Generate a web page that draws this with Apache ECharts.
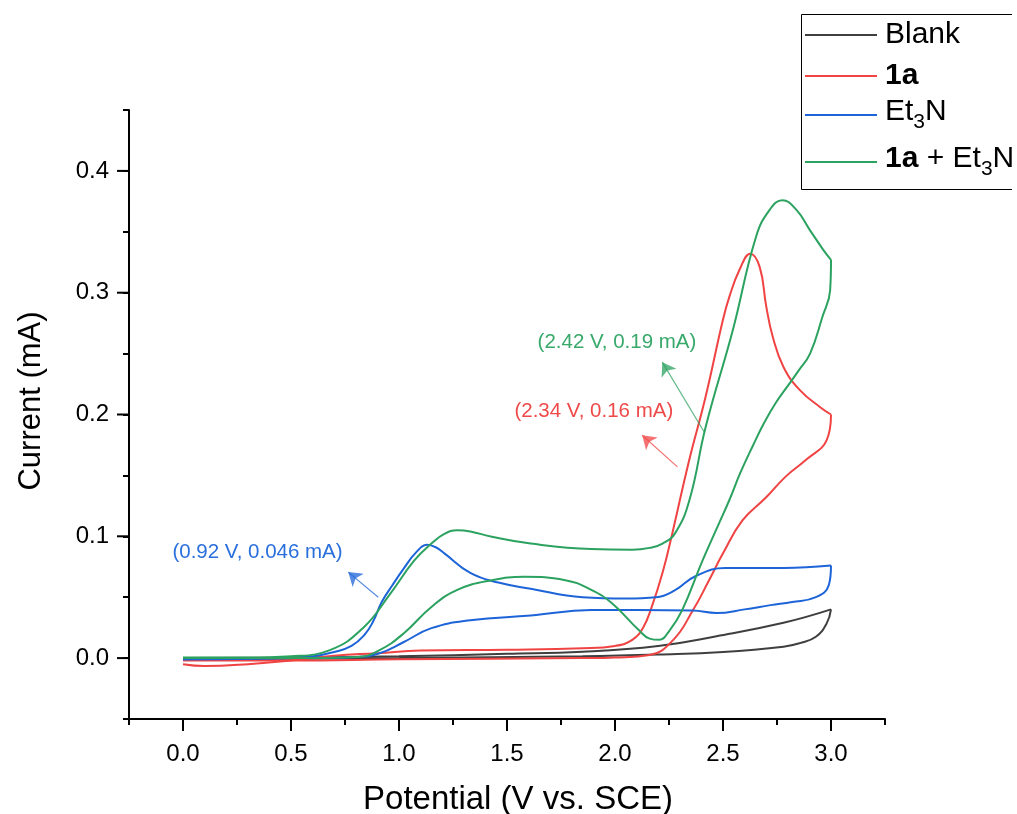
<!DOCTYPE html>
<html>
<head>
<meta charset="utf-8">
<script src="https://cdn.jsdelivr.net/npm/echarts@6/dist/echarts.min.js"></script>
<style>
  html, body { margin: 0; padding: 0; background: #fff; overflow: hidden; }
  #chart { width: 1017px; height: 814px; }
</style>
</head>
<body>
<div id="chart"></div>
<script>
// Cyclic voltammograms: forward (0 -> 3 V) and reverse (3 -> 0 V) sweeps.
const blankFwdV = [0, 0.5, 1.0, 1.5, 1.85, 2.2, 2.47, 2.78, 3.0];
const blankFwdI = [0.000, 0.0005, 0.0015, 0.0035, 0.0052, 0.010, 0.018, 0.029, 0.040];
const blankRevV = [3.0, 2.98, 2.93, 2.856, 2.78, 2.5, 2.2, 1.85, 1.0, 0.5, 0];
const blankRevI = [0.040, 0.0285, 0.0175, 0.0123, 0.0093, 0.005, 0.003, 0.0016, 0.0, -0.0005, -0.001];

const redFwdV = [0, 0.1, 0.3, 0.5, 0.7, 0.9, 1.1, 1.5, 1.85, 2.0, 2.08, 2.13, 2.17, 2.22, 2.266, 2.34, 2.42, 2.5, 2.53, 2.577, 2.626, 2.67, 2.70, 2.73, 2.78, 2.856, 2.95, 3.0];
const redFwdI = [-0.005, -0.0065, -0.005, -0.002, 0.002, 0.004, 0.0062, 0.0068, 0.008, 0.010, 0.015, 0.025, 0.042, 0.070, 0.103, 0.16, 0.215, 0.278, 0.297, 0.319, 0.332, 0.321, 0.289, 0.264, 0.239, 0.22, 0.206, 0.200];
const redRevV = [3.0, 2.98, 2.886, 2.79, 2.70, 2.59, 2.50, 2.43, 2.36, 2.27, 2.16, 2.0, 1.85, 1.0, 0.5, 0];
const redRevI = [0.200, 0.179, 0.163, 0.149, 0.132, 0.113, 0.086, 0.062, 0.039, 0.015, 0.0025, 0.0005, 0.0, -0.001, -0.002, -0.002];

const blueFwdV = [0, 0.3, 0.5, 0.6, 0.7, 0.78, 0.84, 0.88, 0.92, 0.97, 1.02, 1.08, 1.13, 1.17, 1.21, 1.33, 1.46, 1.61, 1.85, 2.05, 2.19, 2.28, 2.37, 2.51, 2.78, 3.0];
const blueFwdI = [-0.001, -0.0005, 0.0005, 0.0015, 0.005, 0.010, 0.019, 0.030, 0.046, 0.060, 0.073, 0.087, 0.093, 0.091, 0.086, 0.070, 0.062, 0.057, 0.050, 0.049, 0.050, 0.056, 0.067, 0.074, 0.074, 0.076];
const blueRevV = [3.0, 2.99, 2.93, 2.82, 2.72, 2.6, 2.47, 2.36, 2.1, 1.89, 1.61, 1.33, 1.15, 1.02, 0.91, 0.81, 0.5, 0];
const blueRevI = [0.076, 0.060, 0.050, 0.046, 0.0435, 0.040, 0.037, 0.039, 0.0395, 0.0394, 0.035, 0.031, 0.0246, 0.013, 0.004, 0.001, 0.0, -0.001];

const greenFwdV = [0, 0.3, 0.5, 0.68, 0.835, 0.96, 1.07, 1.15, 1.21, 1.27, 1.33, 1.43, 1.61, 1.89, 2.08, 2.16, 2.22, 2.28, 2.345, 2.42, 2.545, 2.653, 2.716, 2.775, 2.84, 2.90, 2.965, 3.0];
const greenFwdI = [0.0005, 0.0005, 0.0015, 0.0066, 0.025, 0.053, 0.080, 0.094, 0.102, 0.105, 0.104, 0.0996, 0.094, 0.0895, 0.089, 0.0905, 0.094, 0.103, 0.13, 0.19, 0.269, 0.346, 0.368, 0.376, 0.368, 0.352, 0.335, 0.327];
const greenRevV = [3.0, 2.996, 2.96, 2.903, 2.85, 2.81, 2.746, 2.69, 2.64, 2.58, 2.53, 2.48, 2.405, 2.31, 2.25, 2.205, 2.16, 2.11, 1.986, 1.89, 1.77, 1.58, 1.43, 1.27, 1.15, 1.02, 0.91, 0.81, 0.5, 0];
const greenRevI = [0.327, 0.302, 0.28, 0.25, 0.236, 0.226, 0.21, 0.193, 0.175, 0.152, 0.13, 0.11, 0.08, 0.039, 0.022, 0.015, 0.016, 0.023, 0.045, 0.056, 0.064, 0.0667, 0.064, 0.056, 0.042, 0.02, 0.0066, 0.001, 0.0, 0.0];

// Onset points quoted in the annotations
const onsetV = [0.92, 2.34, 2.42];
const onsetI = [0.046, 0.16, 0.19];

const seriesNames = ['Blank', '1a', 'Et3N', '1a + Et3N'];
const xTickValues = [0, 0.5, 1.0, 1.5, 2.0, 2.5, 3.0];
const yTickValues = [0, 0.1, 0.2, 0.3, 0.4];

const FONT = 'Liberation Sans, Arial, Helvetica, sans-serif';
const COLORS = { gray: '#3f3f3f', red: '#f04343', blue: '#1d64d8', green: '#2ba25f' };
const X_MIN = -0.25, X_MAX = 3.25, Y_MIN = -0.05, Y_MAX = 0.45;
const MAJOR_TICK = 12;

const zip = (v, i) => v.map((x, k) => [x, i[k]]);
const onsetText = k => `(${onsetV[k].toFixed(2)} V, ${onsetI[k]} mA)`;

function sweep(name, color, v, i, extra) {
  return Object.assign({
    name: name,
    type: 'line',
    data: zip(v, i),
    smooth: 0.45,
    symbol: 'none',
    showSymbol: false,
    lineStyle: { color: color, width: 2 },
    itemStyle: { color: color },
    z: 3
  }, extra || {});
}

function arrow(color, from, to) {
  return {
    silent: true,
    symbol: ['none', 'arrow'],
    symbolSize: 13,
    lineStyle: { color: color, width: 1.2, type: 'solid', opacity: 0.75 },
    itemStyle: { color: color },
    label: { show: false },
    emphasis: { disabled: true },
    data: [[{ coord: from }, { coord: to }]]
  };
}

function note(color, at, text) {
  return {
    silent: true,
    symbol: 'circle',
    symbolSize: 0,
    label: { show: true, position: 'inside', formatter: text, color: color, fontSize: 20.5, fontFamily: FONT },
    data: [{ coord: at }]
  };
}

const richText = {
  n: { fontSize: 30, fontFamily: FONT, color: '#000', verticalAlign: 'top' },
  b: { fontSize: 30, fontFamily: FONT, color: '#000', fontWeight: 'bold', verticalAlign: 'top' },
  s: { fontSize: 21, fontFamily: FONT, color: '#000', verticalAlign: 'top', padding: [15, 0, 0, 0] }
};
const legendLabel = {
  'Blank': '{n|Blank}',
  '1a': '{b|1a}',
  'Et3N': '{n|Et}{s|3}{n|N}',
  '1a + Et3N': '{b|1a}{n| + Et}{s|3}{n|N}'
};
const legendTops = [20, 61, 97, 144];

const black = { color: '#000', width: 2 };

const option = {
  animation: false,
  backgroundColor: '#fff',
  grid: { left: 129, right: 132, top: 110, bottom: 95, containLabel: false, outerBoundsMode: 'none' },
  xAxis: {
    type: 'value', min: X_MIN, max: X_MAX, interval: 0.25,
    splitLine: { show: false },
    axisLine: { show: true, onZero: false, lineStyle: black },
    axisTick: { show: true, length: 6, lineStyle: black },
    axisLabel: { customValues: xTickValues, formatter: v => v.toFixed(1), fontSize: 24, color: '#000', margin: 23, fontFamily: FONT },
    name: 'Potential (V vs. SCE)', nameLocation: 'middle', nameGap: 64,
    nameTextStyle: { fontSize: 33, color: '#000', fontFamily: FONT, padding: [0, 0, 0, 22] }
  },
  yAxis: {
    type: 'value', min: Y_MIN, max: Y_MAX, interval: 0.05,
    splitLine: { show: false },
    axisLine: { show: true, onZero: false, lineStyle: black },
    axisTick: { show: true, length: 6, lineStyle: black },
    axisLabel: { customValues: yTickValues, formatter: v => v.toFixed(1), fontSize: 24, color: '#000', margin: 20, fontFamily: FONT },
    name: 'Current (mA)', nameLocation: 'middle', nameGap: 82,
    nameTextStyle: { fontSize: 31, color: '#000', fontFamily: FONT, padding: [0, 0, 0, 27] }
  },
  legend: seriesNames.map((n, k) => ({
    data: [n],
    left: 805,
    top: legendTops[k],
    orient: 'vertical',
    padding: 0,
    icon: 'rect',
    itemWidth: 72,
    itemHeight: 2,
    selectedMode: false,
    formatter: name => legendLabel[name],
    textStyle: { fontSize: 30, color: '#000', fontFamily: FONT, padding: [0, 0, 0, 3], rich: richText }
  })),
  series: [
    sweep('Blank', COLORS.gray, blankFwdV, blankFwdI),
    sweep('Blank', COLORS.gray, blankRevV, blankRevI),
    sweep('1a', COLORS.red, redFwdV, redFwdI, {
      markLine: arrow(COLORS.red, [2.289, 0.157], [2.126, 0.183]),
      markPoint: note('#ef4a4a', [1.902, 0.203], onsetText(1))
    }),
    sweep('1a', COLORS.red, redRevV, redRevI),
    sweep('Et3N', COLORS.blue, blueFwdV, blueFwdI, {
      markLine: arrow(COLORS.blue, [0.904, 0.050], [0.765, 0.0706]),
      markPoint: note('#2a6fdc', [0.345, 0.087], onsetText(0))
    }),
    sweep('Et3N', COLORS.blue, blueRevV, blueRevI),
    sweep('1a + Et3N', COLORS.green, greenFwdV, greenFwdI, {
      markLine: arrow(COLORS.green, [2.415, 0.185], [2.219, 0.243]),
      markPoint: note('#38a96a', [2.009, 0.2595], onsetText(2))
    }),
    sweep('1a + Et3N', COLORS.green, greenRevV, greenRevI)
  ]
};

const chart = echarts.init(document.getElementById('chart'), null, { renderer: 'canvas' });
chart.setOption(option);

// Legend frame (top, left and bottom edges) plus the long major ticks,
// the ticks positioned through the grid's own value-to-pixel conversion.
const line = (x1, y1, x2, y2, w) => ({
  type: 'line', silent: true, z: 10,
  shape: { x1: x1, y1: y1, x2: x2, y2: y2 },
  style: { stroke: '#000', lineWidth: w }
});
const marks = [
  line(801.5, 14.5, 1012, 14.5, 1),
  line(801.5, 14.5, 801.5, 189.5, 1),
  line(801.5, 189.5, 1012, 189.5, 1)
];
xTickValues.forEach(v => {
  const p = chart.convertToPixel({ gridIndex: 0 }, [v, Y_MIN]);
  if (p) marks.push(line(p[0], p[1], p[0], p[1] + MAJOR_TICK, 2));
});
yTickValues.forEach(v => {
  const p = chart.convertToPixel({ gridIndex: 0 }, [X_MIN, v]);
  if (p) marks.push(line(p[0] - MAJOR_TICK, p[1], p[0], p[1], 2));
});
chart.setOption({ graphic: marks });
</script>
</body>
</html>
